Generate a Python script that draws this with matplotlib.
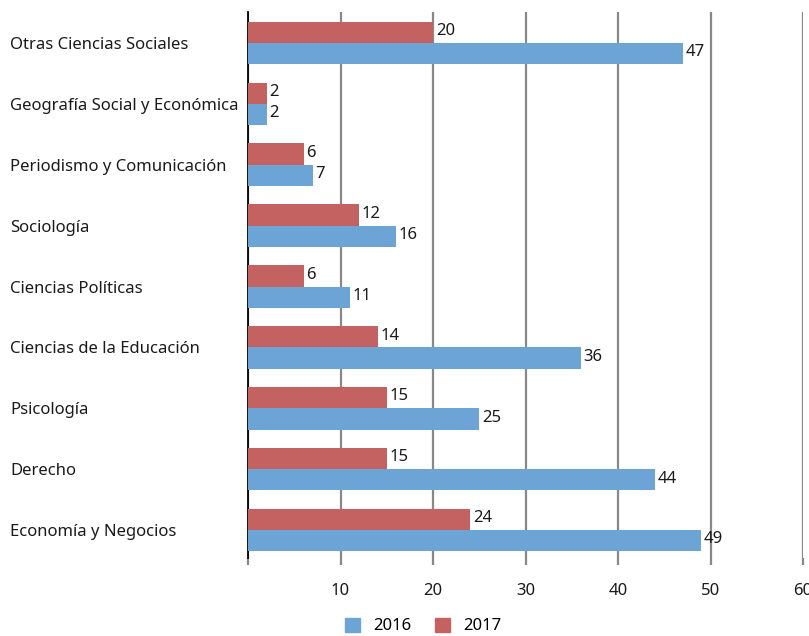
import matplotlib.pyplot as plt
import numpy as np
from matplotlib.patches import Patch

categories = ["Economía y Negocios", "Derecho", "Psicología", "Ciencias de la Educación",
              "Ciencias Políticas", "Sociología", "Periodismo y Comunicación",
              "Geografía Social y Económica", "Otras Ciencias Sociales"]
v2016 = [49, 44, 25, 36, 11, 16, 7, 2, 47]
v2017 = [24, 15, 15, 14, 6, 12, 6, 2, 20]
xticks = [0, 10, 20, 30, 40, 50, 60]
xticklabels = ["", "10", "20", "30", "40", "50", "60"]

blue = "#6CA4D6"
red = "#C46262"
fs = 12

plt.rcParams['font.family'] = ['Noto Sans', 'DejaVu Sans']
fig = plt.figure(figsize=(8.09, 6.36), dpi=100)
ax = fig.add_axes([248 / 809, 1 - 558 / 636, 555 / 809, 546 / 636])

y = np.arange(len(categories))
h = 0.35
b16 = ax.barh(y - h / 2, v2016, height=h, color=blue, zorder=3)
b17 = ax.barh(y + h / 2, v2017, height=h, color=red, zorder=3)
for bars in (b16, b17):
    for r in bars:
        ax.text(r.get_width() + 0.3, r.get_y() + r.get_height() / 2 + 0.02,
                f"{r.get_width():g}", va="center", ha="left", fontsize=fs, color="#1a1a1a", zorder=4)

ax.set_xlim(0, 60)
ax.set_ylim(-0.46, 8.51)
ax.set_xticks(xticks)
ax.set_xticklabels(xticklabels, fontsize=fs, color="#1a1a1a")
ax.grid(axis="x", color="#888888", linewidth=1.6, zorder=0)
ax.tick_params(axis="x", length=5, width=1.6, color="#888888", pad=13)
ax.set_yticks(y)
ax.set_yticklabels(categories, fontsize=fs, color="#1a1a1a", ha="left")
ax.tick_params(axis="y", length=0, pad=171)
for s in ["top", "right", "bottom"]:
    ax.spines[s].set_visible(False)
ax.spines["left"].set_color("black")
ax.spines["left"].set_linewidth(1.3)

handles = [Patch(color=blue, label="2016"), Patch(color=red, label="2017")]
fig.legend(handles=handles, loc="center", bbox_to_anchor=(423 / 809, 1 - 626 / 636), ncol=2,
           frameon=False, fontsize=fs, handlelength=0.9, handleheight=0.9, columnspacing=1.4,
           handletextpad=0.8)

fig.savefig("out.png", dpi=100)
